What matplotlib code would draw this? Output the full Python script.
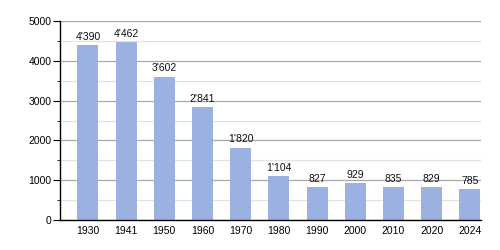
import matplotlib
matplotlib.use("Agg")
import matplotlib.pyplot as plt
import numpy as np

years = ['1930', '1941', '1950', '1960', '1970', '1980', '1990', '2000', '2010', '2020', '2024']
population = [4390, 4462, 3602, 2841, 1820, 1104, 827, 929, 835, 829, 785]

plt.rcParams['font.family'] = ['Liberation Sans', 'DejaVu Sans']

fig = plt.figure(figsize=(5, 2.5), dpi=100)
ax = fig.add_axes([0.12, 0.12, 0.842, 0.796])

x = np.arange(len(years))
ax.bar(x, population, width=0.55, color='#9ab1e2', zorder=2)

for xi, v in zip(x, population):
    lab = '{:,}'.format(v).replace(',', "'")
    ax.text(xi, v + 80, lab, ha='center', va='bottom', fontsize=7.5, color='#111111', zorder=3)

ax.set_xlim(-0.73, 10.29)
ax.set_ylim(0, 5000)
ax.set_xticks(x)
ax.set_xticklabels(years)
ax.set_yticks(np.arange(0, 5001, 1000))
ax.set_yticks(np.arange(500, 5000, 1000), minor=True)
ax.tick_params(axis='x', length=0, labelsize=7.5, pad=4)
ax.tick_params(axis='y', which='major', length=5, labelsize=7.5, direction='out', pad=1)
ax.tick_params(axis='y', which='minor', length=2.5, direction='out')

ax.grid(axis='y', which='major', color='#a8a8a8', linewidth=0.9, zorder=0)
ax.grid(axis='y', which='minor', color='#e2e2e2', linewidth=0.9, zorder=0)

for s in ['top', 'right']:
    ax.spines[s].set_visible(False)
ax.spines['left'].set_linewidth(1.0)
ax.spines['bottom'].set_linewidth(1.0)

fig.savefig('out.png', dpi=100)
